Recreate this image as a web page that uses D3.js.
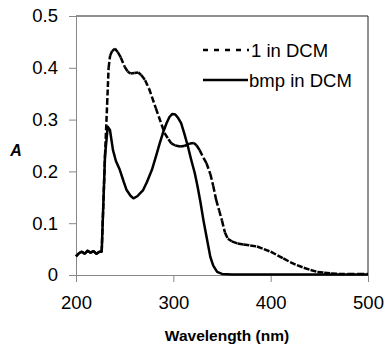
<!DOCTYPE html>
<html>
<head>
<meta charset="utf-8">
<script src="https://cdn.jsdelivr.net/npm/d3@7"></script>
<style>
  body { margin: 0; background: #fff; }
  svg { display: block; font-family: "Liberation Sans", Arial, sans-serif; }
</style>
</head>
<body>
<div id="chart"></div>
<script>
// absorbance spectra
const oneWl = [200,203,206,209,212,215,218,221,224,226.4,229.8,232,233.5,235,237,240,243,246,250,253,256,260,264,267,271,275,278,282,285,288,291,295,298,302,307,311,314,317,321,324,327,331,334,338,341,344,347,350,353,356,360,366,372,379,386,393,400,407,413,420,427,434,441,448,455,462,470,480,490,500];
const oneA  = [0.036,0.042,0.045,0.041,0.047,0.043,0.046,0.041,0.045,0.045,0.23,0.33,0.40,0.423,0.432,0.437,0.43,0.42,0.402,0.393,0.389,0.39,0.391,0.386,0.376,0.36,0.344,0.322,0.306,0.29,0.274,0.262,0.254,0.25,0.248,0.249,0.251,0.254,0.255,0.25,0.241,0.226,0.216,0.195,0.172,0.145,0.125,0.105,0.082,0.07,0.065,0.061,0.059,0.057,0.055,0.05,0.045,0.038,0.032,0.025,0.019,0.014,0.0097,0.006,0.0045,0.003,0.002,0.002,0.002,0.002];

const bmpWl = [200,203,206,209,212,215,218,221,224,226.4,229.8,232.6,234.9,238,241,245,249,252,256,259,263,266,269,273,278,282,286,290,293,296,299,302,305,308,311,315,318,322,325,328,331,333,336,338,341,345,350,360,380,400,450,500];
const bmpA  = [0.036,0.042,0.045,0.041,0.047,0.043,0.046,0.041,0.045,0.045,0.23,0.286,0.28,0.241,0.22,0.203,0.18,0.164,0.153,0.148,0.152,0.158,0.164,0.18,0.203,0.228,0.254,0.278,0.293,0.305,0.311,0.310,0.303,0.293,0.275,0.248,0.225,0.197,0.17,0.139,0.105,0.085,0.055,0.035,0.018,0.006,0.002,0.001,0.001,0.001,0.001,0.001];

const seriesNames = ["1 in DCM", "bmp in DCM"];
const xTicks = [200, 300, 400, 500];
const yTicks = [0, 0.1, 0.2, 0.3, 0.4, 0.5];

const W = 387, H = 345;
const svg = d3.select("#chart").append("svg")
  .attr("width", W).attr("height", H);

const x = d3.scaleLinear().domain([200, 500]).range([76, 368]);
const y = d3.scaleLinear().domain([0, 0.5]).range([275, 16]);

// plot frame (top + right)
svg.append("path")
  .attr("d", `M${x(200)},${y(0.5)}H${x(500)}V${y(0)}`)
  .attr("fill", "none").attr("stroke", "#222").attr("stroke-width", 1);

// axes
const yAxis = svg.append("g")
  .attr("transform", `translate(${x(200)},0)`)
  .call(d3.axisLeft(y).tickValues(yTicks).tickSize(7).tickPadding(11)
    .tickFormat(d => d === 0 ? "0" : d3.format(".1f")(d)));
const xAxis = svg.append("g")
  .attr("transform", `translate(0,${y(0)})`)
  .call(d3.axisBottom(x).tickValues(xTicks).tickSize(7).tickPadding(14));

[yAxis, xAxis].forEach(g => {
  g.select(".domain").attr("stroke", "#888");
  g.selectAll(".tick line").attr("stroke", "#888");
  g.selectAll("text").attr("font-size", 18.5).attr("fill", "#000")
    .attr("font-family", "Liberation Sans, Arial, sans-serif");
});

// lines
const line = d3.line().x(d => x(d[0])).y(d => y(d[1]));
const oneData = oneWl.map((w, i) => [w, oneA[i]]);
const bmpData = bmpWl.map((w, i) => [w, bmpA[i]]);

// dashed series: pattern restarts on every segment, like the spreadsheet does
svg.append("g").selectAll("path")
  .data(d3.pairs(oneData))
  .join("path")
  .attr("d", line).attr("fill", "none").attr("stroke", "#000")
  .attr("stroke-width", 2.5).attr("stroke-dasharray", "6,2.5");
svg.append("path").datum(bmpData)
  .attr("d", line).attr("fill", "none").attr("stroke", "#000")
  .attr("stroke-width", 2.5).attr("stroke-linejoin", "round");

// legend
const legend = svg.append("g");
legend.append("line")
  .attr("x1", 203).attr("x2", 249).attr("y1", 50).attr("y2", 50)
  .attr("stroke", "#000").attr("stroke-width", 2.5).attr("stroke-dasharray", "5,6");
legend.append("text").attr("x", 251).attr("y", 56.5)
  .attr("font-size", 18.5).text(seriesNames[0]);
legend.append("line")
  .attr("x1", 203).attr("x2", 248).attr("y1", 80).attr("y2", 80)
  .attr("stroke", "#000").attr("stroke-width", 2.5);
legend.append("text").attr("x", 249).attr("y", 86.5)
  .attr("font-size", 18.5).text(seriesNames[1]);

// axis titles
svg.append("text").attr("x", 227).attr("y", 341)
  .attr("text-anchor", "middle").attr("font-size", 15.5).attr("font-weight", "bold")
  .text("Wavelength (nm)");
svg.append("text").attr("x", 16).attr("y", 155.5)
  .attr("text-anchor", "middle").attr("font-size", 16).attr("font-weight", "bold")
  .attr("font-style", "italic").text("A");
</script>
</body>
</html>
